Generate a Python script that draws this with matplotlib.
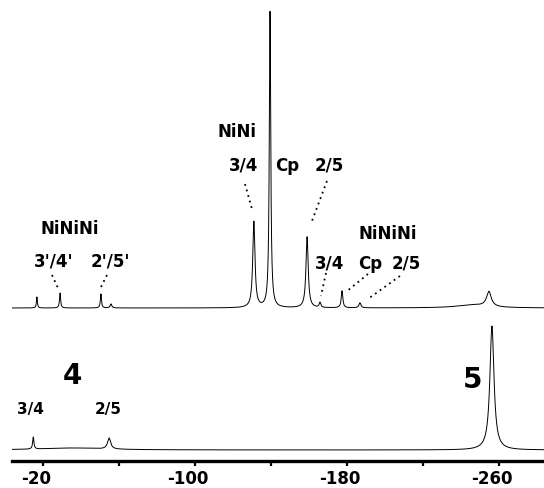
import numpy as np
import matplotlib
matplotlib.use("Agg")
import matplotlib.pyplot as plt
from matplotlib.transforms import ScaledTranslation

# Chemical shift axis (ppm), NMR style: decreasing to the right
x_left, x_right = -3.7, -283.7
major_ticks = [-20, -100, -180, -260]
minor_ticks = [-60, -140, -220]
tick_labels = ["-20", "-100", "-180", "-260"]

# Upper trace (mixture): peak centre (ppm), intensity, FWHM (ppm)
upper_pos = [-16.8, -29.0, -50.5, -55.8, -131.0, -139.5, -159.0, -165.8, -177.4, -186.8, -254.7, -246.0]
upper_int = [11, 15, 14, 4, 86, 296, 71, 5, 17, 5, 15, 3]
upper_fwhm = [0.6, 0.7, 0.7, 1.0, 1.4, 0.9, 1.4, 1.0, 1.0, 1.2, 3.0, 20.0]
upper_offset = 153

# Lower trace (compounds 4 and 5)
lower_pos = [-14.9, -54.8, -256.3, -35.0]
lower_int = [12, 11, 124, 2]
lower_fwhm = [0.8, 2.0, 2.6, 40.0]
lower_offset = 11


def spectrum(ppm, pos, inten, fwhm):
    y = np.zeros_like(ppm)
    for p, h, w in zip(pos, inten, fwhm):
        y += h / (1.0 + ((ppm - p) / (w / 2.0)) ** 2)
    return y


ppm = np.linspace(x_left, x_right, 30000)
y_up = upper_offset + spectrum(ppm, upper_pos, upper_int, upper_fwhm)
y_lo = lower_offset + spectrum(ppm, lower_pos, lower_int, lower_fwhm)

W, H = 544, 489
fig = plt.figure(figsize=(W / 100, H / 100), dpi=100)
ax = fig.add_axes([12 / W, (H - 462) / H, (W - 12) / W, 462 / H])
ax.set_xlim(x_left, x_right)
ax.set_ylim(0, 462)

ax.plot(ppm, y_up, color="black", lw=0.7)
ax.plot(ppm, y_lo, color="black", lw=0.7)

for s in ["top", "left", "right"]:
    ax.spines[s].set_visible(False)
ax.spines["bottom"].set_linewidth(2.4)
ax.set_yticks([])
ax.set_xticks(major_ticks)
ax.set_xticklabels(tick_labels)
ax.set_xticks(minor_ticks, minor=True)
ax.tick_params(axis="x", which="both", direction="out", length=3.5, width=1.6, pad=2.5)
shift = ScaledTranslation(-7 / 100, 0, fig.dpi_scale_trans)
for lab in ax.get_xticklabels():
    lab.set_fontfamily("DejaVu Sans")
    lab.set_fontsize(12)
    lab.set_fontweight("bold")
    lab.set_transform(lab.get_transform() + shift)


def px(xp, yp):
    """Pixel position -> data coordinates."""
    return -20 - (xp - 43) / 1.9, 462 - yp


font = dict(family="DejaVu Sans", fontweight="bold", ha="center", va="center")

labels = [
    ("NiNiNi", 70, 229, 12),
    ("3'/4'", 54, 261, 12),
    ("2'/5'", 110, 261, 12),
    ("NiNi", 237, 132, 12),
    ("3/4", 244, 166, 12),
    ("Cp", 287, 166, 12),
    ("2/5", 329, 166, 12),
    ("NiNiNi", 388, 234, 12),
    ("3/4", 330, 264, 12),
    ("Cp", 370, 264, 12),
    ("2/5", 406, 264, 12),
    ("4", 72, 376, 20),
    ("5", 473, 380, 20),
    ("3/4", 30, 410, 11),
    ("2/5", 108, 410, 11),
]
for txt, xp, yp, fs in labels:
    ax.text(*px(xp, yp), txt, fontsize=fs, **font)

leaders = [
    ((52, 276), (58, 289)),
    ((107, 276), (100, 290)),
    ((245, 185), (252, 210)),
    ((327, 182), (312, 222)),
    ((326, 274), (321, 297)),
    ((368, 275), (346, 293)),
    ((400, 277), (368, 300)),
]
for (x0, y0), (x1, y1) in leaders:
    a, b = px(x0, y0)
    c, d = px(x1, y1)
    ax.plot([a, c], [b, d], color="black", lw=1.3, linestyle=(0, (1, 2.2)))

fig.savefig("out.png", dpi=100)
